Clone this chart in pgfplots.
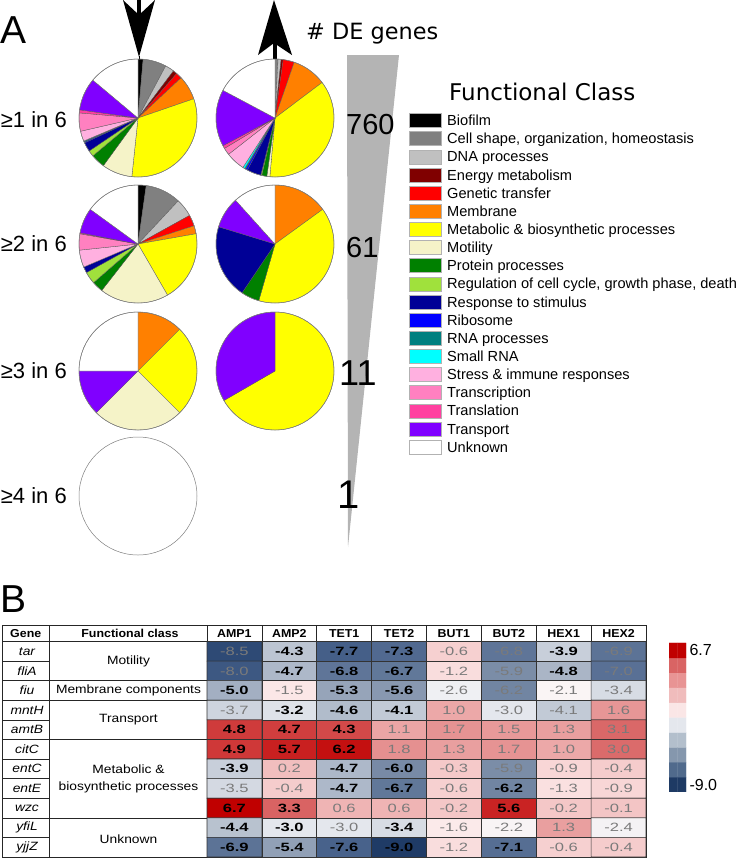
\documentclass[border=0pt]{standalone}
\usepackage{pgfplots}
\pgfplotsset{compat=1.18}
\usepackage{pgfplotstable}
\usepackage{fontspec}
\setmainfont{Liberation Sans}
\newfontfamily\dejavu{DejaVu Sans}
\newfontfamily\tbl[FakeStretch=1.15]{Liberation Sans}
\newfontfamily\tblhead[FakeStretch=1.08]{Liberation Sans}
\newfontfamily\tblnum[FakeStretch=1.38]{Liberation Sans}
\newcommand{\tblfont}{\tbl\fontsize{12}{17}\selectfont}
\newcommand{\headfont}{\tblhead\fontsize{11.5}{13}\selectfont\bfseries}
\newcommand{\numfont}{\tblnum\fontsize{12}{14}\selectfont}
\newcommand{\legfont}{\fontsize{14.6}{16}\selectfont}

\definecolor{cBio}{RGB}{0,0,0}
\definecolor{cCell}{RGB}{128,128,128}
\definecolor{cDNA}{RGB}{192,192,192}
\definecolor{cEnergy}{RGB}{128,0,0}
\definecolor{cGen}{RGB}{255,0,0}
\definecolor{cMem}{RGB}{255,128,0}
\definecolor{cMet}{RGB}{255,255,0}
\definecolor{cMot}{RGB}{245,243,200}
\definecolor{cProt}{RGB}{0,128,0}
\definecolor{cReg}{RGB}{160,225,60}
\definecolor{cResp}{RGB}{0,0,150}
\definecolor{cRib}{RGB}{0,0,255}
\definecolor{cRNA}{RGB}{0,128,128}
\definecolor{cSRNA}{RGB}{0,255,255}
\definecolor{cStress}{RGB}{255,176,224}
\definecolor{cTrsc}{RGB}{255,128,192}
\definecolor{cTrsl}{RGB}{255,64,160}
\definecolor{cTrsp}{RGB}{128,0,255}
\definecolor{cUnk}{RGB}{255,255,255}
\definecolor{cTri}{RGB}{180,180,180}

% pie wedge: centre x, centre y, colour, start angle, end angle (clockwise from top, degrees)
\newcommand{\wdg}[5]{\filldraw[fill=#3, draw=black!65, line width=0.3pt] (axis cs:#1,#2) -- ++({90-#4}:59pt) arc[start angle={90-#4}, end angle={90-#5}, radius=59pt] -- cycle;}
\newcommand{\rim}[2]{\draw[gray, line width=0.5pt] (axis cs:#1,#2) circle[radius=59pt];}
\newcommand{\leg}[3]{\filldraw[fill=#2, draw=gray!60, line width=0.4pt] ([yshift=-7pt]axis cs:409,#1) rectangle ([yshift=7pt]axis cs:441,#1);
  \node[anchor=base west, inner sep=0, font=\legfont] at ([yshift=-5.1pt]axis cs:447,#1) {#3};}
\newcommand{\tl}[2]{\draw[black!85, line width=0.6pt] (axis cs:2,#1) -- (axis cs:#2,#1);}

% log2 fold changes: column x = experiment (AMP1..HEX2), row y = gene (tar..yjjZ)
\pgfplotstableread{
x y v
0 0 -8.5
1 0 -4.3
2 0 -7.7
3 0 -7.3
4 0 -0.6
5 0 -6.8
6 0 -3.9
7 0 -6.9
0 1 -8.0
1 1 -4.7
2 1 -6.8
3 1 -6.7
4 1 -1.2
5 1 -5.9
6 1 -4.8
7 1 -7.0
0 2 -5.0
1 2 -1.5
2 2 -5.3
3 2 -5.6
4 2 -2.6
5 2 -6.2
6 2 -2.1
7 2 -3.4
0 3 -3.7
1 3 -3.2
2 3 -4.6
3 3 -4.1
4 3 1.0
5 3 -3.0
6 3 -4.1
7 3 1.6
0 4 4.8
1 4 4.7
2 4 4.3
3 4 1.1
4 4 1.7
5 4 1.5
6 4 1.3
7 4 3.1
0 5 4.9
1 5 5.7
2 5 6.2
3 5 1.8
4 5 1.3
5 5 1.7
6 5 1.0
7 5 3.0
0 6 -3.9
1 6 0.2
2 6 -4.7
3 6 -6.0
4 6 -0.3
5 6 -5.9
6 6 -0.9
7 6 -0.4
0 7 -3.5
1 7 -0.4
2 7 -4.7
3 7 -6.7
4 7 -0.6
5 7 -6.2
6 7 -1.3
7 7 -0.9
0 8 6.7
1 8 3.3
2 8 0.6
3 8 0.6
4 8 -0.2
5 8 5.6
6 8 -0.2
7 8 -0.1
0 9 -4.4
1 9 -3.0
2 9 -3.0
3 9 -3.4
4 9 -1.6
5 9 -2.2
6 9 1.3
7 9 -2.4
0 10 -6.9
1 10 -5.4
2 10 -7.6
3 10 -9.0
4 10 -1.2
5 10 -7.1
6 10 -0.6
7 10 -0.4
}\heat

% labels set in bold
\pgfplotstableread{
x y lab
1 0 -4.3
2 0 -7.7
3 0 -7.3
6 0 -3.9
1 1 -4.7
2 1 -6.8
3 1 -6.7
6 1 -4.8
0 2 -5.0
2 2 -5.3
3 2 -5.6
1 3 -3.2
2 3 -4.6
3 3 -4.1
0 4 4.8
1 4 4.7
2 4 4.3
0 5 4.9
1 5 5.7
2 5 6.2
0 6 -3.9
2 6 -4.7
3 6 -6.0
2 7 -4.7
3 7 -6.7
5 7 -6.2
0 8 6.7
1 8 3.3
5 8 5.6
0 9 -4.4
1 9 -3.0
3 9 -3.4
0 10 -6.9
1 10 -5.4
2 10 -7.6
3 10 -9.0
5 10 -7.1
}\hbold

% labels set in regular weight
\pgfplotstableread{
x y lab
0 0 -8.5
4 0 -0.6
5 0 -6.8
7 0 -6.9
0 1 -8.0
4 1 -1.2
5 1 -5.9
7 1 -7.0
1 2 -1.5
4 2 -2.6
5 2 -6.2
6 2 -2.1
7 2 -3.4
0 3 -3.7
4 3 1.0
5 3 -3.0
6 3 -4.1
7 3 1.6
3 4 1.1
4 4 1.7
5 4 1.5
6 4 1.3
7 4 3.1
3 5 1.8
4 5 1.3
5 5 1.7
6 5 1.0
7 5 3.0
1 6 0.2
4 6 -0.3
5 6 -5.9
6 6 -0.9
7 6 -0.4
0 7 -3.5
1 7 -0.4
4 7 -0.6
6 7 -1.3
7 7 -0.9
2 8 0.6
3 8 0.6
4 8 -0.2
6 8 -0.2
7 8 -0.1
2 9 -3.0
4 9 -1.6
5 9 -2.2
6 9 1.3
7 9 -2.4
4 10 -1.2
6 10 -0.6
7 10 -0.4
}\hnorm

\begin{document}
\begin{tikzpicture}
%================ main canvas axis (pixel frame) ================
\begin{axis}[at={(0pt,0pt)}, anchor=south west, width=742pt, height=868pt, scale only axis,
  xmin=0, xmax=742, ymin=0, ymax=868, y dir=reverse, hide axis, clip=false]
% panel letters
\node[anchor=base west, inner sep=0, font=\fontsize{39}{40}\selectfont] at (axis cs:0,43) {A};
\node[anchor=base west, inner sep=0, font=\fontsize{39}{40}\selectfont] at (axis cs:0,612) {B};
% arrows
\fill[black] (axis cs:123,0) -- (axis cs:139,57) -- (axis cs:155,0) -- (axis cs:139,15) -- cycle;
\fill[black] (axis cs:137,0) rectangle (axis cs:141,16);
\draw[black, line width=1pt] (axis cs:139,56) -- (axis cs:139,60);
\fill[black] (axis cs:274,0) -- (axis cs:292,55) -- (axis cs:274,43) -- (axis cs:258,55) -- cycle;
\fill[black] (axis cs:272.5,40) rectangle (axis cs:276.5,60);
% header
\node[anchor=base west, inner sep=0, font=\dejavu\fontsize{22.4}{24}\selectfont] at (axis cs:306,39.5) {\# DE genes};
% row labels
\node[anchor=base east, inner sep=0, font=\fontsize{22}{24}\selectfont] at (axis cs:67,127) {≥1 in 6};
\node[anchor=base east, inner sep=0, font=\fontsize{22}{24}\selectfont] at (axis cs:67,251) {≥2 in 6};
\node[anchor=base east, inner sep=0, font=\fontsize{22}{24}\selectfont] at (axis cs:67,378) {≥3 in 6};
\node[anchor=base east, inner sep=0, font=\fontsize{22}{24}\selectfont] at (axis cs:67,503) {≥4 in 6};
% triangle and counts
\fill[cTri] (axis cs:347,55) -- (axis cs:399,55) -- (axis cs:348,547) -- cycle;
\node[anchor=base west, inner sep=0, font=\fontsize{29}{30}\selectfont] at (axis cs:346,134) {760};
\node[anchor=base west, inner sep=0, font=\fontsize{29}{30}\selectfont] at (axis cs:346,257) {61};
\node[anchor=base west, inner sep=0, font=\fontsize{36}{38}\selectfont] at (axis cs:339,385) {11};
\node[anchor=base west, inner sep=0, font=\fontsize{40}{42}\selectfont] at (axis cs:337,508) {1};
% pie: >=1 in 6, down
\wdg{138}{118}{cBio}{0}{5}
\wdg{138}{118}{cCell}{5}{28}
\wdg{138}{118}{cDNA}{28}{37}
\wdg{138}{118}{cEnergy}{37}{41}
\wdg{138}{118}{cGen}{41}{47}
\wdg{138}{118}{cMem}{47}{71}
\wdg{138}{118}{cMet}{71}{186}
\wdg{138}{118}{cMot}{186}{216}
\wdg{138}{118}{cProt}{216}{230}
\wdg{138}{118}{cReg}{230}{236}
\wdg{138}{118}{cResp}{236}{245}
\wdg{138}{118}{cRib}{245}{246}
\wdg{138}{118}{cRNA}{246}{247}
\wdg{138}{118}{cStress}{247}{257}
\wdg{138}{118}{cTrsc}{257}{275}
\wdg{138}{118}{cTrsl}{275}{278}
\wdg{138}{118}{cTrsp}{278}{310}
\wdg{138}{118}{cUnk}{310}{360}
\rim{138}{118}
% pie: >=1 in 6, up
\wdg{275}{118}{cCell}{0}{3}
\wdg{275}{118}{cDNA}{3}{6}
\wdg{275}{118}{cEnergy}{6}{8}
\wdg{275}{118}{cGen}{8}{19}
\wdg{275}{118}{cMem}{19}{53}
\wdg{275}{118}{cMet}{53}{185}
\wdg{275}{118}{cMot}{185}{188}
\wdg{275}{118}{cProt}{188}{193}
\wdg{275}{118}{cReg}{193}{194}
\wdg{275}{118}{cResp}{194}{208}
\wdg{275}{118}{cRib}{208}{210}
\wdg{275}{118}{cRNA}{210}{211}
\wdg{275}{118}{cSRNA}{211}{213}
\wdg{275}{118}{cStress}{213}{232}
\wdg{275}{118}{cTrsc}{232}{239}
\wdg{275}{118}{cTrsl}{239}{242}
\wdg{275}{118}{cTrsp}{242}{298}
\wdg{275}{118}{cUnk}{298}{360}
\rim{275}{118}
% pie: >=2 in 6, down
\wdg{138}{244}{cBio}{0}{8}
\wdg{138}{244}{cCell}{8}{43}
\wdg{138}{244}{cDNA}{43}{61}
\wdg{138}{244}{cGen}{61}{72}
\wdg{138}{244}{cMem}{72}{80}
\wdg{138}{244}{cMet}{80}{150}
\wdg{138}{244}{cMot}{150}{218}
\wdg{138}{244}{cProt}{218}{229}
\wdg{138}{244}{cReg}{229}{241}
\wdg{138}{244}{cResp}{241}{247}
\wdg{138}{244}{cStress}{247}{264}
\wdg{138}{244}{cTrsc}{264}{280}
\wdg{138}{244}{cTrsl}{280}{281}
\wdg{138}{244}{cTrsp}{281}{306}
\wdg{138}{244}{cUnk}{306}{360}
\rim{138}{244}
% pie: >=2 in 6, up
\wdg{275}{244}{cMem}{0}{54}
\wdg{275}{244}{cMet}{54}{196}
\wdg{275}{244}{cProt}{196}{214}
\wdg{275}{244}{cResp}{214}{287}
\wdg{275}{244}{cTrsp}{287}{318}
\wdg{275}{244}{cUnk}{318}{360}
\rim{275}{244}
% pie: >=3 in 6, down
\wdg{138}{371}{cMem}{0}{45}
\wdg{138}{371}{cMet}{45}{135}
\wdg{138}{371}{cMot}{135}{225}
\wdg{138}{371}{cTrsp}{225}{270}
\wdg{138}{371}{cUnk}{270}{360}
\rim{138}{371}
% pie: >=3 in 6, up
\wdg{275}{371}{cMet}{0}{240}
\wdg{275}{371}{cTrsp}{240}{360}
\rim{275}{371}
% pie: >=4 in 6, down
\filldraw[fill=cUnk, draw=gray, line width=0.5pt] (axis cs:138,496) circle[radius=59pt];
% legend
\node[anchor=base west, inner sep=0, font=\dejavu\fontsize{23}{24}\selectfont] at (axis cs:449,100) {Functional Class};
\leg{120.5}{cBio}{Biofilm}
\leg{138.6}{cCell}{Cell shape, organization, homeostasis}
\leg{156.8}{cDNA}{DNA processes}
\leg{174.9}{cEnergy}{Energy metabolism}
\leg{193.1}{cGen}{Genetic transfer}
\leg{211.2}{cMem}{Membrane}
\leg{229.3}{cMet}{Metabolic \& biosynthetic processes}
\leg{247.5}{cMot}{Motility}
\leg{265.6}{cProt}{Protein processes}
\leg{283.8}{cReg}{Regulation of cell cycle, growth phase, death}
\leg{301.9}{cResp}{Response to stimulus}
\leg{320.0}{cRib}{Ribosome}
\leg{338.2}{cRNA}{RNA processes}
\leg{356.3}{cSRNA}{Small RNA}
\leg{374.5}{cStress}{Stress \& immune responses}
\leg{392.6}{cTrsc}{Transcription}
\leg{410.7}{cTrsl}{Translation}
\leg{428.9}{cTrsp}{Transport}
\leg{447.0}{cUnk}{Unknown}
% ---- table frame (panel B) ----
\tl{641.5}{646}
\tl{661.1}{49.5}
\tl{680.7}{207}
\tl{700.3}{207}
\tl{719.9}{49.5}
\tl{739.5}{207}
\tl{759.0}{49.5}
\tl{778.6}{49.5}
\tl{798.2}{49.5}
\tl{817.8}{207}
\tl{837.4}{49.5}
\draw[black!85, line width=0.6pt] (axis cs:49.5,625) -- (axis cs:49.5,857);
\draw[black!85, line width=0.6pt] (axis cs:207,625) -- (axis cs:207,857);
\draw[black!85, line width=0.6pt] (axis cs:261.9,625) -- (axis cs:261.9,641.5);
\draw[black!85, line width=0.6pt] (axis cs:316.75,625) -- (axis cs:316.75,641.5);
\draw[black!85, line width=0.6pt] (axis cs:371.6,625) -- (axis cs:371.6,641.5);
\draw[black!85, line width=0.6pt] (axis cs:426.5,625) -- (axis cs:426.5,641.5);
\draw[black!85, line width=0.6pt] (axis cs:481.4,625) -- (axis cs:481.4,641.5);
\draw[black!85, line width=0.6pt] (axis cs:536.25,625) -- (axis cs:536.25,641.5);
\draw[black!85, line width=0.6pt] (axis cs:591.1,625) -- (axis cs:591.1,641.5);
% header texts
\node[font=\headfont, inner sep=0] at (axis cs:25.75,633.3) {Gene};
\node[font=\headfont, inner sep=0] at (axis cs:130,633.3) {Functional class};
\node[font=\headfont, inner sep=0] at (axis cs:234.4,633.3) {AMP1};
\node[font=\headfont, inner sep=0] at (axis cs:289.3,633.3) {AMP2};
\node[font=\headfont, inner sep=0] at (axis cs:344.2,633.3) {TET1};
\node[font=\headfont, inner sep=0] at (axis cs:399.1,633.3) {TET2};
\node[font=\headfont, inner sep=0] at (axis cs:453.9,633.3) {BUT1};
\node[font=\headfont, inner sep=0] at (axis cs:508.8,633.3) {BUT2};
\node[font=\headfont, inner sep=0] at (axis cs:563.7,633.3) {HEX1};
\node[font=\headfont, inner sep=0] at (axis cs:618.6,633.3) {HEX2};
% gene names
\node[font=\tblfont\itshape, inner sep=0] at (axis cs:27,651.3) {tar};
\node[font=\tblfont\itshape, inner sep=0] at (axis cs:27,670.9) {fliA};
\node[font=\tblfont\itshape, inner sep=0] at (axis cs:27,690.5) {fiu};
\node[font=\tblfont\itshape, inner sep=0] at (axis cs:27,710.1) {mntH};
\node[font=\tblfont\itshape, inner sep=0] at (axis cs:27,729.7) {amtB};
\node[font=\tblfont\itshape, inner sep=0] at (axis cs:27,749.3) {citC};
\node[font=\tblfont\itshape, inner sep=0] at (axis cs:27,768.8) {entC};
\node[font=\tblfont\itshape, inner sep=0] at (axis cs:27,788.4) {entE};
\node[font=\tblfont\itshape, inner sep=0] at (axis cs:27,808.0) {wzc};
\node[font=\tblfont\itshape, inner sep=0] at (axis cs:27,827.6) {yfiL};
\node[font=\tblfont\itshape, inner sep=0] at (axis cs:27,847.2) {yjjZ};
% functional classes
\node[font=\tblfont, inner sep=0] at (axis cs:128.5,661.1) {Motility};
\node[font=\tblfont, inner sep=0] at (axis cs:128.5,690.5) {Membrane components};
\node[font=\tblfont, inner sep=0] at (axis cs:128.5,719.9) {Transport};
\node[font=\tblfont, inner sep=0, align=center] at (axis cs:128.5,778.6) {Metabolic \&\\biosynthetic processes};
\node[font=\tblfont, inner sep=0] at (axis cs:128.5,839.5) {Unknown};
\draw[black!85, line width=1pt] (axis cs:2,625) rectangle (axis cs:646,857);
\end{axis}

%================ heatmap ================
\begin{axis}[at={(207pt,11pt)}, anchor=south west, width=439pt, height=215.5pt, scale only axis,
  xmin=-0.5, xmax=7.5, ymin=-0.5, ymax=10.5, y dir=reverse, hide axis, clip=false,
  colormap={heat}{rgb255=(31,59,102) rgb255=(55,83,126) rgb255=(77,102,142) rgb255=(99,121,154)
    rgb255=(124,142,168) rgb255=(160,173,192) rgb255=(188,197,210) rgb255=(212,217,226)
    rgb255=(237,239,243) rgb255=(253,246,246) rgb255=(249,219,219) rgb255=(245,203,203)
    rgb255=(240,185,185) rgb255=(234,162,162) rgb255=(228,138,138) rgb255=(221,114,114)
    rgb255=(215,91,91) rgb255=(211,72,72) rgb255=(205,50,50) rgb255=(199,25,25) rgb255=(192,0,0)},
  point meta min=-9, point meta max=6.7]
\addplot[matrix plot*, mesh/cols=8, point meta=explicit, draw=black!80, line width=0.6pt]
  table[x=x, y=y, meta=v] {\heat};
\addplot[draw=none, mark=none, point meta=explicit symbolic,
  nodes near coords={\pgfplotspointmeta},
  nodes near coords style={anchor=center, inner sep=0, font=\numfont\bfseries, text=black}]
  table[x=x, y=y, meta=lab] {\hbold};
\addplot[draw=none, mark=none, point meta=explicit symbolic,
  nodes near coords={\pgfplotspointmeta},
  nodes near coords style={anchor=center, inner sep=0, font=\numfont, text=black!52}]
  table[x=x, y=y, meta=lab] {\hnorm};
\end{axis}

%================ colour scale ================
\begin{axis}[at={(669pt,76pt)}, anchor=south west, width=17pt, height=149pt, scale only axis,
  xmin=-0.5, xmax=1.5, ymin=-0.5, ymax=9.5,
  axis line style={draw=none}, tick style={draw=none}, xtick=\empty,
  ytick={0,9}, yticklabels={-9.0,6.7}, yticklabel pos=right,
  yticklabel style={font=\fontsize{16}{18}\selectfont},
  colormap={bar}{rgb255=(30,58,100) rgb255=(80,106,140) rgb255=(133,151,173)
    rgb255=(179,191,204) rgb255=(228,231,237) rgb255=(250,230,230)
    rgb255=(240,188,188) rgb255=(232,148,148) rgb255=(217,100,100)
    rgb255=(192,0,0)},
  point meta min=0, point meta max=9]
\addplot[matrix plot*, mesh/cols=2, point meta=explicit, draw=none] table[x=x, y=y, meta=m] {
x y m
0 0 0
1 0 0
0 1 1
1 1 1
0 2 2
1 2 2
0 3 3
1 3 3
0 4 4
1 4 4
0 5 5
1 5 5
0 6 6
1 6 6
0 7 7
1 7 7
0 8 8
1 8 8
0 9 9
1 9 9
};
\node[rotate=90, anchor=south, inner sep=0, font=\fontsize{15}{16}\selectfont, text=black!90]
  at ([xshift=-3pt]rel axis cs:0,0.5) {log2(fold change)};
\end{axis}
\pgfresetboundingbox
\path (0,0) rectangle (742pt,868pt);
\end{tikzpicture}
\end{document}
